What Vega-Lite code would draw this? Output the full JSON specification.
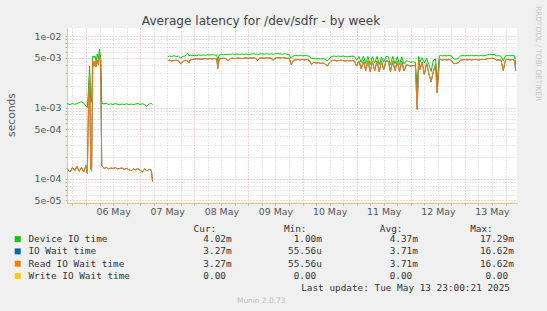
{
  "$schema": "https://vega.github.io/schema/vega-lite/v6.json",
  "width": 450,
  "height": 175,
  "autosize": "none",
  "padding": {"left": 67, "top": 28, "right": 30, "bottom": 108},
  "background": "#F0F0F0",
  "title": {"text": "Average latency for /dev/sdfr - by week", "frame": "group", "anchor": "middle", "dx": -31, "dy": 35.8, "font": "DejaVu Sans", "fontSize": 12.1, "fontWeight": "normal", "color": "#444444", "baseline": "alphabetic", "offset": 4.5},
  "config": {"view": {"fill": "#FFFFFF", "stroke": null}, "font": "DejaVu Sans"},
  "data": {"values": [
    {"t":"2025-05-05T15:36Z","s":1,"dev":1.15e-3,"io":1.4e-4,"rd":1.4e-4,"wr":0},
    {"t":"2025-05-05T16:00Z","s":1,"dev":1.12e-3,"io":1.35e-4,"rd":1.35e-4,"wr":0},
    {"t":"2025-05-05T17:00Z","s":1,"dev":1.10e-3,"io":1.25e-4,"rd":1.25e-4,"wr":0},
    {"t":"2025-05-05T18:00Z","s":1,"dev":1.14e-3,"io":1.45e-4,"rd":1.45e-4,"wr":0},
    {"t":"2025-05-05T19:00Z","s":1,"dev":1.11e-3,"io":1.3e-4,"rd":1.3e-4,"wr":0},
    {"t":"2025-05-05T20:00Z","s":1,"dev":1.13e-3,"io":1.5e-4,"rd":1.5e-4,"wr":0},
    {"t":"2025-05-05T21:00Z","s":1,"dev":1.18e-3,"io":1.28e-4,"rd":1.28e-4,"wr":0},
    {"t":"2025-05-05T22:00Z","s":1,"dev":1.2e-3,"io":1.45e-4,"rd":1.45e-4,"wr":0},
    {"t":"2025-05-05T23:00Z","s":1,"dev":1.15e-3,"io":1.25e-4,"rd":1.25e-4,"wr":0},
    {"t":"2025-05-06T00:00Z","s":1,"dev":1.05e-3,"io":1.55e-4,"rd":1.55e-4,"wr":0},
    {"t":"2025-05-06T00:36Z","s":1,"dev":1.0e-3,"io":1.2e-4,"rd":1.2e-4,"wr":0},
    {"t":"2025-05-06T01:12Z","s":1,"dev":2.0e-3,"io":1.5e-3,"rd":1.5e-3,"wr":0},
    {"t":"2025-05-06T01:36Z","s":1,"dev":3.8e-3,"io":3.0e-3,"rd":3.0e-3,"wr":0},
    {"t":"2025-05-06T02:06Z","s":1,"dev":1.2e-3,"io":1.4e-4,"rd":1.4e-4,"wr":0},
    {"t":"2025-05-06T02:30Z","s":1,"dev":1.2e-3,"io":1.3e-4,"rd":1.3e-4,"wr":0},
    {"t":"2025-05-06T03:00Z","s":1,"dev":5.3e-3,"io":4.5e-3,"rd":4.5e-3,"wr":0},
    {"t":"2025-05-06T03:30Z","s":1,"dev":5.0e-3,"io":3.8e-3,"rd":3.8e-3,"wr":0},
    {"t":"2025-05-06T04:00Z","s":1,"dev":5.3e-3,"io":4.4e-3,"rd":4.4e-3,"wr":0},
    {"t":"2025-05-06T04:30Z","s":1,"dev":4.4e-3,"io":3.7e-3,"rd":3.7e-3,"wr":0},
    {"t":"2025-05-06T05:00Z","s":1,"dev":5.6e-3,"io":4.6e-3,"rd":4.6e-3,"wr":0},
    {"t":"2025-05-06T05:30Z","s":1,"dev":4.8e-3,"io":4.0e-3,"rd":4.0e-3,"wr":0},
    {"t":"2025-05-06T06:00Z","s":1,"dev":6.6e-3,"io":5.6e-3,"rd":5.6e-3,"wr":0},
    {"t":"2025-05-06T06:30Z","s":1,"dev":5.0e-3,"io":4.5e-3,"rd":4.5e-3,"wr":0},
    {"t":"2025-05-06T07:00Z","s":1,"dev":1.15e-3,"io":1.55e-4,"rd":1.55e-4,"wr":0},
    {"t":"2025-05-06T08:00Z","s":1,"dev":1.12e-3,"io":1.4e-4,"rd":1.4e-4,"wr":0},
    {"t":"2025-05-06T09:00Z","s":1,"dev":1.15e-3,"io":1.45e-4,"rd":1.45e-4,"wr":0},
    {"t":"2025-05-06T10:00Z","s":1,"dev":1.1e-3,"io":1.38e-4,"rd":1.38e-4,"wr":0},
    {"t":"2025-05-06T11:00Z","s":1,"dev":1.13e-3,"io":1.42e-4,"rd":1.42e-4,"wr":0},
    {"t":"2025-05-06T12:00Z","s":1,"dev":1.1e-3,"io":1.4e-4,"rd":1.4e-4,"wr":0},
    {"t":"2025-05-06T13:00Z","s":1,"dev":1.14e-3,"io":1.44e-4,"rd":1.44e-4,"wr":0},
    {"t":"2025-05-06T14:00Z","s":1,"dev":1.11e-3,"io":1.38e-4,"rd":1.38e-4,"wr":0},
    {"t":"2025-05-06T15:00Z","s":1,"dev":1.09e-3,"io":1.4e-4,"rd":1.4e-4,"wr":0},
    {"t":"2025-05-06T16:00Z","s":1,"dev":1.12e-3,"io":1.42e-4,"rd":1.42e-4,"wr":0},
    {"t":"2025-05-06T17:00Z","s":1,"dev":1.1e-3,"io":1.37e-4,"rd":1.37e-4,"wr":0},
    {"t":"2025-05-06T18:00Z","s":1,"dev":1.13e-3,"io":1.4e-4,"rd":1.4e-4,"wr":0},
    {"t":"2025-05-06T19:00Z","s":1,"dev":1.1e-3,"io":1.35e-4,"rd":1.35e-4,"wr":0},
    {"t":"2025-05-06T20:00Z","s":1,"dev":1.12e-3,"io":1.3e-4,"rd":1.3e-4,"wr":0},
    {"t":"2025-05-06T21:00Z","s":1,"dev":1.1e-3,"io":1.38e-4,"rd":1.38e-4,"wr":0},
    {"t":"2025-05-06T22:00Z","s":1,"dev":1.12e-3,"io":1.34e-4,"rd":1.34e-4,"wr":0},
    {"t":"2025-05-06T23:00Z","s":1,"dev":1.14e-3,"io":1.4e-4,"rd":1.4e-4,"wr":0},
    {"t":"2025-05-07T00:00Z","s":1,"dev":1.1e-3,"io":1.32e-4,"rd":1.32e-4,"wr":0},
    {"t":"2025-05-07T01:00Z","s":1,"dev":1.13e-3,"io":1.25e-4,"rd":1.25e-4,"wr":0},
    {"t":"2025-05-07T02:00Z","s":1,"dev":1.1e-3,"io":1.38e-4,"rd":1.38e-4,"wr":0},
    {"t":"2025-05-07T03:00Z","s":1,"dev":1.04e-3,"io":1.3e-4,"rd":1.3e-4,"wr":0},
    {"t":"2025-05-07T04:00Z","s":1,"dev":1.12e-3,"io":1.36e-4,"rd":1.36e-4,"wr":0},
    {"t":"2025-05-07T05:00Z","s":1,"dev":1.14e-3,"io":1.32e-4,"rd":1.32e-4,"wr":0},
    {"t":"2025-05-07T05:30Z","s":1,"dev":1.1e-3,"io":9.2e-5,"rd":9.2e-5,"wr":0},
    {"t":"2025-05-07T12:20Z","s":2,"dev":5.15e-3,"io":4.55e-3,"rd":4.55e-3,"wr":0},
    {"t":"2025-05-07T13:00Z","s":2,"dev":5.25e-3,"io":4.6e-3,"rd":4.6e-3,"wr":0},
    {"t":"2025-05-07T14:00Z","s":2,"dev":5.2e-3,"io":4.5e-3,"rd":4.5e-3,"wr":0},
    {"t":"2025-05-07T15:00Z","s":2,"dev":5.3e-3,"io":4.55e-3,"rd":4.55e-3,"wr":0},
    {"t":"2025-05-07T16:00Z","s":2,"dev":5.2e-3,"io":4.6e-3,"rd":4.6e-3,"wr":0},
    {"t":"2025-05-07T17:00Z","s":2,"dev":5.25e-3,"io":4.5e-3,"rd":4.5e-3,"wr":0},
    {"t":"2025-05-07T18:00Z","s":2,"dev":4.9e-3,"io":4.1e-3,"rd":4.1e-3,"wr":0},
    {"t":"2025-05-07T19:00Z","s":2,"dev":5.2e-3,"io":4.4e-3,"rd":4.4e-3,"wr":0},
    {"t":"2025-05-07T20:00Z","s":2,"dev":5.3e-3,"io":4.6e-3,"rd":4.6e-3,"wr":0},
    {"t":"2025-05-07T21:00Z","s":2,"dev":5.8e-3,"io":4.5e-3,"rd":4.5e-3,"wr":0},
    {"t":"2025-05-07T21:40Z","s":2,"dev":5.3e-3,"io":4.2e-3,"rd":4.2e-3,"wr":0},
    {"t":"2025-05-07T22:00Z","s":2,"dev":5.4e-3,"io":4.6e-3,"rd":4.6e-3,"wr":0},
    {"t":"2025-05-07T23:00Z","s":2,"dev":5.3e-3,"io":4.7e-3,"rd":4.7e-3,"wr":0},
    {"t":"2025-05-08T00:00Z","s":2,"dev":5.4e-3,"io":4.75e-3,"rd":4.75e-3,"wr":0},
    {"t":"2025-05-08T01:00Z","s":2,"dev":5.35e-3,"io":4.8e-3,"rd":4.8e-3,"wr":0},
    {"t":"2025-05-08T02:00Z","s":2,"dev":5.45e-3,"io":4.8e-3,"rd":4.8e-3,"wr":0},
    {"t":"2025-05-08T03:00Z","s":2,"dev":5.4e-3,"io":4.75e-3,"rd":4.75e-3,"wr":0},
    {"t":"2025-05-08T04:00Z","s":2,"dev":5.45e-3,"io":4.8e-3,"rd":4.8e-3,"wr":0},
    {"t":"2025-05-08T05:00Z","s":2,"dev":5.4e-3,"io":4.85e-3,"rd":4.85e-3,"wr":0},
    {"t":"2025-05-08T06:00Z","s":2,"dev":5.5e-3,"io":4.8e-3,"rd":4.8e-3,"wr":0},
    {"t":"2025-05-08T07:00Z","s":2,"dev":5.45e-3,"io":4.85e-3,"rd":4.85e-3,"wr":0},
    {"t":"2025-05-08T08:00Z","s":2,"dev":5.5e-3,"io":4.8e-3,"rd":4.8e-3,"wr":0},
    {"t":"2025-05-08T09:00Z","s":2,"dev":5.45e-3,"io":4.85e-3,"rd":4.85e-3,"wr":0},
    {"t":"2025-05-08T10:00Z","s":2,"dev":5.4e-3,"io":4.8e-3,"rd":4.8e-3,"wr":0},
    {"t":"2025-05-08T10:25Z","s":2,"dev":4.5e-3,"io":3.5e-3,"rd":3.5e-3,"wr":0},
    {"t":"2025-05-08T11:00Z","s":2,"dev":5.4e-3,"io":4.75e-3,"rd":4.75e-3,"wr":0},
    {"t":"2025-05-08T12:00Z","s":2,"dev":5.55e-3,"io":4.85e-3,"rd":4.85e-3,"wr":0},
    {"t":"2025-05-08T13:00Z","s":2,"dev":5.5e-3,"io":4.9e-3,"rd":4.9e-3,"wr":0},
    {"t":"2025-05-08T14:00Z","s":2,"dev":5.55e-3,"io":4.85e-3,"rd":4.85e-3,"wr":0},
    {"t":"2025-05-08T15:00Z","s":2,"dev":5.5e-3,"io":4.5e-3,"rd":4.5e-3,"wr":0},
    {"t":"2025-05-08T16:00Z","s":2,"dev":5.55e-3,"io":4.85e-3,"rd":4.85e-3,"wr":0},
    {"t":"2025-05-08T17:00Z","s":2,"dev":5.6e-3,"io":4.9e-3,"rd":4.9e-3,"wr":0},
    {"t":"2025-05-08T18:00Z","s":2,"dev":5.55e-3,"io":4.85e-3,"rd":4.85e-3,"wr":0},
    {"t":"2025-05-08T19:00Z","s":2,"dev":5.6e-3,"io":4.9e-3,"rd":4.9e-3,"wr":0},
    {"t":"2025-05-08T20:00Z","s":2,"dev":5.55e-3,"io":4.9e-3,"rd":4.9e-3,"wr":0},
    {"t":"2025-05-08T21:00Z","s":2,"dev":5.6e-3,"io":4.85e-3,"rd":4.85e-3,"wr":0},
    {"t":"2025-05-08T22:00Z","s":2,"dev":5.55e-3,"io":4.9e-3,"rd":4.9e-3,"wr":0},
    {"t":"2025-05-08T23:00Z","s":2,"dev":5.6e-3,"io":4.95e-3,"rd":4.95e-3,"wr":0},
    {"t":"2025-05-09T00:00Z","s":2,"dev":5.55e-3,"io":4.9e-3,"rd":4.9e-3,"wr":0},
    {"t":"2025-05-09T01:00Z","s":2,"dev":5.6e-3,"io":4.95e-3,"rd":4.95e-3,"wr":0},
    {"t":"2025-05-09T02:00Z","s":2,"dev":5.65e-3,"io":4.9e-3,"rd":4.9e-3,"wr":0},
    {"t":"2025-05-09T03:00Z","s":2,"dev":5.6e-3,"io":4.95e-3,"rd":4.95e-3,"wr":0},
    {"t":"2025-05-09T04:00Z","s":2,"dev":5.55e-3,"io":4.6e-3,"rd":4.6e-3,"wr":0},
    {"t":"2025-05-09T05:00Z","s":2,"dev":5.6e-3,"io":4.9e-3,"rd":4.9e-3,"wr":0},
    {"t":"2025-05-09T06:00Z","s":2,"dev":5.65e-3,"io":4.95e-3,"rd":4.95e-3,"wr":0},
    {"t":"2025-05-09T07:00Z","s":2,"dev":5.6e-3,"io":4.9e-3,"rd":4.9e-3,"wr":0},
    {"t":"2025-05-09T08:00Z","s":2,"dev":5.65e-3,"io":5.0e-3,"rd":5.0e-3,"wr":0},
    {"t":"2025-05-09T09:00Z","s":2,"dev":5.6e-3,"io":4.95e-3,"rd":4.95e-3,"wr":0},
    {"t":"2025-05-09T10:00Z","s":2,"dev":5.65e-3,"io":4.9e-3,"rd":4.9e-3,"wr":0},
    {"t":"2025-05-09T11:00Z","s":2,"dev":5.55e-3,"io":4.6e-3,"rd":4.6e-3,"wr":0},
    {"t":"2025-05-09T12:00Z","s":2,"dev":5.65e-3,"io":4.95e-3,"rd":4.95e-3,"wr":0},
    {"t":"2025-05-09T13:00Z","s":2,"dev":5.7e-3,"io":5.0e-3,"rd":5.0e-3,"wr":0},
    {"t":"2025-05-09T14:00Z","s":2,"dev":5.65e-3,"io":4.95e-3,"rd":4.95e-3,"wr":0},
    {"t":"2025-05-09T15:00Z","s":2,"dev":5.6e-3,"io":5.0e-3,"rd":5.0e-3,"wr":0},
    {"t":"2025-05-09T16:00Z","s":2,"dev":5.65e-3,"io":4.95e-3,"rd":4.95e-3,"wr":0},
    {"t":"2025-05-09T17:00Z","s":2,"dev":5.6e-3,"io":4.9e-3,"rd":4.9e-3,"wr":0},
    {"t":"2025-05-09T18:00Z","s":2,"dev":5.55e-3,"io":4.9e-3,"rd":4.9e-3,"wr":0},
    {"t":"2025-05-09T19:00Z","s":2,"dev":4.9e-3,"io":4.0e-3,"rd":4.0e-3,"wr":0},
    {"t":"2025-05-09T20:00Z","s":2,"dev":5.3e-3,"io":4.6e-3,"rd":4.6e-3,"wr":0},
    {"t":"2025-05-09T21:00Z","s":2,"dev":5.35e-3,"io":4.65e-3,"rd":4.65e-3,"wr":0},
    {"t":"2025-05-09T22:00Z","s":2,"dev":5.3e-3,"io":4.7e-3,"rd":4.7e-3,"wr":0},
    {"t":"2025-05-09T23:00Z","s":2,"dev":5.35e-3,"io":4.65e-3,"rd":4.65e-3,"wr":0},
    {"t":"2025-05-10T00:00Z","s":2,"dev":5.3e-3,"io":4.7e-3,"rd":4.7e-3,"wr":0},
    {"t":"2025-05-10T01:00Z","s":2,"dev":5.35e-3,"io":4.65e-3,"rd":4.65e-3,"wr":0},
    {"t":"2025-05-10T02:00Z","s":2,"dev":5.3e-3,"io":4.7e-3,"rd":4.7e-3,"wr":0},
    {"t":"2025-05-10T03:00Z","s":2,"dev":5.25e-3,"io":4.6e-3,"rd":4.6e-3,"wr":0},
    {"t":"2025-05-10T04:00Z","s":2,"dev":4.9e-3,"io":4.0e-3,"rd":4.0e-3,"wr":0},
    {"t":"2025-05-10T05:00Z","s":2,"dev":4.85e-3,"io":4.3e-3,"rd":4.3e-3,"wr":0},
    {"t":"2025-05-10T06:00Z","s":2,"dev":4.8e-3,"io":4.2e-3,"rd":4.2e-3,"wr":0},
    {"t":"2025-05-10T07:00Z","s":2,"dev":4.85e-3,"io":4.25e-3,"rd":4.25e-3,"wr":0},
    {"t":"2025-05-10T08:00Z","s":2,"dev":4.8e-3,"io":4.15e-3,"rd":4.15e-3,"wr":0},
    {"t":"2025-05-10T09:00Z","s":2,"dev":4.85e-3,"io":4.2e-3,"rd":4.2e-3,"wr":0},
    {"t":"2025-05-10T10:00Z","s":2,"dev":4.75e-3,"io":4.1e-3,"rd":4.1e-3,"wr":0},
    {"t":"2025-05-10T11:00Z","s":2,"dev":4.5e-3,"io":3.8e-3,"rd":3.8e-3,"wr":0},
    {"t":"2025-05-10T12:00Z","s":2,"dev":4.9e-3,"io":4.3e-3,"rd":4.3e-3,"wr":0},
    {"t":"2025-05-10T13:00Z","s":2,"dev":5.2e-3,"io":4.55e-3,"rd":4.55e-3,"wr":0},
    {"t":"2025-05-10T14:00Z","s":2,"dev":5.25e-3,"io":4.6e-3,"rd":4.6e-3,"wr":0},
    {"t":"2025-05-10T15:00Z","s":2,"dev":5.2e-3,"io":4.5e-3,"rd":4.5e-3,"wr":0},
    {"t":"2025-05-10T16:00Z","s":2,"dev":5.25e-3,"io":4.55e-3,"rd":4.55e-3,"wr":0},
    {"t":"2025-05-10T17:00Z","s":2,"dev":5.2e-3,"io":4.6e-3,"rd":4.6e-3,"wr":0},
    {"t":"2025-05-10T18:00Z","s":2,"dev":5.25e-3,"io":4.55e-3,"rd":4.55e-3,"wr":0},
    {"t":"2025-05-10T19:00Z","s":2,"dev":5.2e-3,"io":4.5e-3,"rd":4.5e-3,"wr":0},
    {"t":"2025-05-10T20:00Z","s":2,"dev":5.15e-3,"io":4.55e-3,"rd":4.55e-3,"wr":0},
    {"t":"2025-05-10T21:00Z","s":2,"dev":5.2e-3,"io":4.5e-3,"rd":4.5e-3,"wr":0},
    {"t":"2025-05-10T22:00Z","s":2,"dev":5.25e-3,"io":4.55e-3,"rd":4.55e-3,"wr":0},
    {"t":"2025-05-10T23:00Z","s":2,"dev":5.2e-3,"io":4.5e-3,"rd":4.5e-3,"wr":0},
    {"t":"2025-05-11T00:00Z","s":2,"dev":4.6e-3,"io":3.8e-3,"rd":3.8e-3,"wr":0},
    {"t":"2025-05-11T01:00Z","s":2,"dev":5.2e-3,"io":4.5e-3,"rd":4.5e-3,"wr":0},
    {"t":"2025-05-11T02:00Z","s":2,"dev":4.3e-3,"io":3.5e-3,"rd":3.5e-3,"wr":0},
    {"t":"2025-05-11T03:00Z","s":2,"dev":5.25e-3,"io":4.55e-3,"rd":4.55e-3,"wr":0},
    {"t":"2025-05-11T04:00Z","s":2,"dev":4.1e-3,"io":3.3e-3,"rd":3.3e-3,"wr":0},
    {"t":"2025-05-11T05:00Z","s":2,"dev":5.2e-3,"io":4.5e-3,"rd":4.5e-3,"wr":0},
    {"t":"2025-05-11T06:00Z","s":2,"dev":4.0e-3,"io":3.2e-3,"rd":3.2e-3,"wr":0},
    {"t":"2025-05-11T07:00Z","s":2,"dev":5.15e-3,"io":4.4e-3,"rd":4.4e-3,"wr":0},
    {"t":"2025-05-11T08:00Z","s":2,"dev":4.2e-3,"io":3.3e-3,"rd":3.3e-3,"wr":0},
    {"t":"2025-05-11T09:00Z","s":2,"dev":5.2e-3,"io":4.5e-3,"rd":4.5e-3,"wr":0},
    {"t":"2025-05-11T10:00Z","s":2,"dev":4.0e-3,"io":3.15e-3,"rd":3.15e-3,"wr":0},
    {"t":"2025-05-11T11:00Z","s":2,"dev":5.1e-3,"io":4.4e-3,"rd":4.4e-3,"wr":0},
    {"t":"2025-05-11T12:00Z","s":2,"dev":4.3e-3,"io":3.4e-3,"rd":3.4e-3,"wr":0},
    {"t":"2025-05-11T13:00Z","s":2,"dev":5.2e-3,"io":4.5e-3,"rd":4.5e-3,"wr":0},
    {"t":"2025-05-11T14:00Z","s":2,"dev":5.15e-3,"io":4.45e-3,"rd":4.45e-3,"wr":0},
    {"t":"2025-05-11T15:00Z","s":2,"dev":4.0e-3,"io":3.2e-3,"rd":3.2e-3,"wr":0},
    {"t":"2025-05-11T16:00Z","s":2,"dev":5.2e-3,"io":4.5e-3,"rd":4.5e-3,"wr":0},
    {"t":"2025-05-11T17:00Z","s":2,"dev":4.1e-3,"io":3.3e-3,"rd":3.3e-3,"wr":0},
    {"t":"2025-05-11T18:00Z","s":2,"dev":5.15e-3,"io":4.4e-3,"rd":4.4e-3,"wr":0},
    {"t":"2025-05-11T19:00Z","s":2,"dev":4.0e-3,"io":3.2e-3,"rd":3.2e-3,"wr":0},
    {"t":"2025-05-11T20:00Z","s":2,"dev":5.1e-3,"io":4.4e-3,"rd":4.4e-3,"wr":0},
    {"t":"2025-05-11T21:00Z","s":2,"dev":4.1e-3,"io":3.25e-3,"rd":3.25e-3,"wr":0},
    {"t":"2025-05-11T22:00Z","s":2,"dev":4.5e-3,"io":3.95e-3,"rd":3.95e-3,"wr":0},
    {"t":"2025-05-11T23:00Z","s":2,"dev":4.45e-3,"io":3.9e-3,"rd":3.9e-3,"wr":0},
    {"t":"2025-05-12T00:00Z","s":2,"dev":4.3e-3,"io":3.8e-3,"rd":3.8e-3,"wr":0},
    {"t":"2025-05-12T01:00Z","s":2,"dev":4.35e-3,"io":3.85e-3,"rd":3.85e-3,"wr":0},
    {"t":"2025-05-12T02:00Z","s":2,"dev":4.3e-3,"io":3.9e-3,"rd":3.9e-3,"wr":0},
    {"t":"2025-05-12T02:50Z","s":2,"dev":1.85e-3,"io":9.4e-4,"rd":9.4e-4,"wr":0},
    {"t":"2025-05-12T03:30Z","s":2,"dev":5.2e-3,"io":4.5e-3,"rd":4.5e-3,"wr":0},
    {"t":"2025-05-12T04:00Z","s":2,"dev":4.3e-3,"io":3.4e-3,"rd":3.4e-3,"wr":0},
    {"t":"2025-05-12T05:00Z","s":2,"dev":5.0e-3,"io":4.3e-3,"rd":4.3e-3,"wr":0},
    {"t":"2025-05-12T06:00Z","s":2,"dev":4.2e-3,"io":2.9e-3,"rd":2.9e-3,"wr":0},
    {"t":"2025-05-12T07:00Z","s":2,"dev":4.9e-3,"io":4.2e-3,"rd":4.2e-3,"wr":0},
    {"t":"2025-05-12T08:00Z","s":2,"dev":4.0e-3,"io":3.0e-3,"rd":3.0e-3,"wr":0},
    {"t":"2025-05-12T09:00Z","s":2,"dev":3.2e-3,"io":2.3e-3,"rd":2.3e-3,"wr":0},
    {"t":"2025-05-12T10:00Z","s":2,"dev":4.6e-3,"io":3.2e-3,"rd":3.2e-3,"wr":0},
    {"t":"2025-05-12T11:00Z","s":2,"dev":4.8e-3,"io":4.0e-3,"rd":4.0e-3,"wr":0},
    {"t":"2025-05-12T11:40Z","s":2,"dev":2.2e-3,"io":1.6e-3,"rd":1.6e-3,"wr":0},
    {"t":"2025-05-12T12:40Z","s":2,"dev":5.3e-3,"io":4.6e-3,"rd":4.6e-3,"wr":0},
    {"t":"2025-05-12T13:00Z","s":2,"dev":5.35e-3,"io":4.7e-3,"rd":4.7e-3,"wr":0},
    {"t":"2025-05-12T14:00Z","s":2,"dev":5.3e-3,"io":4.65e-3,"rd":4.65e-3,"wr":0},
    {"t":"2025-05-12T15:00Z","s":2,"dev":5.35e-3,"io":4.7e-3,"rd":4.7e-3,"wr":0},
    {"t":"2025-05-12T16:00Z","s":2,"dev":5.3e-3,"io":4.65e-3,"rd":4.65e-3,"wr":0},
    {"t":"2025-05-12T17:00Z","s":2,"dev":5.35e-3,"io":4.7e-3,"rd":4.7e-3,"wr":0},
    {"t":"2025-05-12T18:00Z","s":2,"dev":5.3e-3,"io":4.6e-3,"rd":4.6e-3,"wr":0},
    {"t":"2025-05-12T19:00Z","s":2,"dev":4.8e-3,"io":4.1e-3,"rd":4.1e-3,"wr":0},
    {"t":"2025-05-12T20:00Z","s":2,"dev":4.75e-3,"io":4.15e-3,"rd":4.15e-3,"wr":0},
    {"t":"2025-05-12T21:00Z","s":2,"dev":4.85e-3,"io":4.2e-3,"rd":4.2e-3,"wr":0},
    {"t":"2025-05-12T22:00Z","s":2,"dev":5.3e-3,"io":4.6e-3,"rd":4.6e-3,"wr":0},
    {"t":"2025-05-12T23:00Z","s":2,"dev":5.35e-3,"io":4.65e-3,"rd":4.65e-3,"wr":0},
    {"t":"2025-05-13T00:00Z","s":2,"dev":5.3e-3,"io":4.7e-3,"rd":4.7e-3,"wr":0},
    {"t":"2025-05-13T01:00Z","s":2,"dev":5.35e-3,"io":4.65e-3,"rd":4.65e-3,"wr":0},
    {"t":"2025-05-13T02:00Z","s":2,"dev":5.3e-3,"io":4.7e-3,"rd":4.7e-3,"wr":0},
    {"t":"2025-05-13T03:00Z","s":2,"dev":5.35e-3,"io":4.65e-3,"rd":4.65e-3,"wr":0},
    {"t":"2025-05-13T04:00Z","s":2,"dev":5.3e-3,"io":4.7e-3,"rd":4.7e-3,"wr":0},
    {"t":"2025-05-13T05:00Z","s":2,"dev":5.35e-3,"io":4.7e-3,"rd":4.7e-3,"wr":0},
    {"t":"2025-05-13T06:00Z","s":2,"dev":5.3e-3,"io":4.65e-3,"rd":4.65e-3,"wr":0},
    {"t":"2025-05-13T07:00Z","s":2,"dev":5.35e-3,"io":4.7e-3,"rd":4.7e-3,"wr":0},
    {"t":"2025-05-13T08:00Z","s":2,"dev":5.3e-3,"io":4.7e-3,"rd":4.7e-3,"wr":0},
    {"t":"2025-05-13T09:00Z","s":2,"dev":5.35e-3,"io":4.7e-3,"rd":4.7e-3,"wr":0},
    {"t":"2025-05-13T10:00Z","s":2,"dev":5.5e-3,"io":4.85e-3,"rd":4.85e-3,"wr":0},
    {"t":"2025-05-13T11:00Z","s":2,"dev":5.55e-3,"io":4.85e-3,"rd":4.85e-3,"wr":0},
    {"t":"2025-05-13T12:00Z","s":2,"dev":5.5e-3,"io":4.9e-3,"rd":4.9e-3,"wr":0},
    {"t":"2025-05-13T13:00Z","s":2,"dev":5.55e-3,"io":4.85e-3,"rd":4.85e-3,"wr":0},
    {"t":"2025-05-13T14:00Z","s":2,"dev":5.3e-3,"io":4.6e-3,"rd":4.6e-3,"wr":0},
    {"t":"2025-05-13T15:00Z","s":2,"dev":5.3e-3,"io":4.65e-3,"rd":4.65e-3,"wr":0},
    {"t":"2025-05-13T16:00Z","s":2,"dev":5.25e-3,"io":4.6e-3,"rd":4.6e-3,"wr":0},
    {"t":"2025-05-13T17:00Z","s":2,"dev":4.5e-3,"io":3.3e-3,"rd":3.3e-3,"wr":0},
    {"t":"2025-05-13T18:00Z","s":2,"dev":5.3e-3,"io":4.65e-3,"rd":4.65e-3,"wr":0},
    {"t":"2025-05-13T19:00Z","s":2,"dev":5.35e-3,"io":4.7e-3,"rd":4.7e-3,"wr":0},
    {"t":"2025-05-13T20:00Z","s":2,"dev":5.3e-3,"io":4.65e-3,"rd":4.65e-3,"wr":0},
    {"t":"2025-05-13T21:00Z","s":2,"dev":5.35e-3,"io":4.7e-3,"rd":4.7e-3,"wr":0},
    {"t":"2025-05-13T22:00Z","s":2,"dev":5.3e-3,"io":4.6e-3,"rd":4.6e-3,"wr":0},
    {"t":"2025-05-13T22:30Z","s":2,"dev":4.02e-3,"io":3.27e-3,"rd":3.27e-3,"wr":0}
  ]},
  "transform": [{"fold": ["dev", "io", "rd", "wr"], "as": ["key", "value"]}],
  "layer": [
    {
      "encoding": {
        "x": {"field": "t", "type": "temporal",
          "scale": {"type": "utc", "domain": [1746459300000, 1747177500000]},
          "axis": {
            "title": "Last update: Tue May 13 23:00:21 2025",
            "titleFont": "DejaVu Sans Mono", "titleFontSize": 9.4, "titleFontWeight": "normal", "titleColor": "#333333",
            "titleX": 442.5, "titleY": 87, "titleAlign": "right", "titleBaseline": "alphabetic",
            "values": [1746468000000, 1746489600000, 1746511200000, 1746532800000, 1746554400000, 1746576000000, 1746597600000, 1746619200000, 1746640800000, 1746662400000, 1746684000000, 1746705600000, 1746727200000, 1746748800000, 1746770400000, 1746792000000, 1746813600000, 1746835200000, 1746856800000, 1746878400000, 1746900000000, 1746921600000, 1746943200000, 1746964800000, 1746986400000, 1747008000000, 1747029600000, 1747051200000, 1747072800000, 1747094400000, 1747116000000, 1747137600000, 1747159200000],
            "grid": true, "gridDash": [1, 2],
            "gridColor": {"condition": {"test": "utchours(datum.value) == 0", "value": "#F0A0A0"}, "value": "#CFCFCF"},
            "labelExpr": "utchours(datum.value) == 12 ? utcFormat(datum.value, '%d %b') : ''",
            "labelFont": "DejaVu Sans", "labelFontSize": 9.4, "labelColor": "#555555",
            "labelOverlap": false, "labelFlush": false, "labelPadding": 2,
            "tickSize": 2, "tickColor": "#B0B0B0", "domainColor": "#C8C8C8"
          }
        },
        "y": {"field": "value", "type": "quantitative",
          "scale": {"type": "log", "domain": [4.6e-5, 1.3e-2], "clamp": true},
          "axis": {
            "title": "seconds", "titleFont": "DejaVu Sans", "titleFontSize": 10.75, "titleFontWeight": "normal", "titleColor": "#555555",
            "titleX": -55.8, "titleY": 86.5, "titleAngle": 270, "titleAlign": "center", "titleBaseline": "middle",
            "values": [0.00005, 0.00006, 0.00007, 0.00008, 0.00009, 0.0001, 0.0002, 0.0003, 0.0004, 0.0005, 0.0006, 0.0007, 0.0008, 0.0009, 0.001, 0.002, 0.003, 0.004, 0.005, 0.006, 0.007, 0.008, 0.009, 0.01],
            "grid": true, "gridDash": [1, 2],
            "gridColor": {"condition": {"test": "indexof([0.00005, 0.0001, 0.0005, 0.001, 0.005, 0.01], datum.value) >= 0", "value": "#F0A0A0"}, "value": "#CFCFCF"},
            "labelExpr": "indexof([0.00005, 0.0001, 0.0005, 0.001, 0.005, 0.01], datum.value) >= 0 ? replace(format(datum.value, '.0e'), 'e-', 'e-0') : ''",
            "labelFont": "DejaVu Sans", "labelFontSize": 9.4, "labelColor": "#555555",
            "labelOverlap": false, "labelFlush": false, "labelPadding": 4,
            "tickSize": 2, "tickColor": "#B0B0B0", "domainColor": "#C4C8E0"
          }
        },
        "color": {"field": "key", "type": "nominal",
          "scale": {"domain": ["dev", "io", "rd", "wr"], "range": ["#00CC00", "#0066B3", "#FF8000", "#FFCC00"]},
          "legend": {
            "orient": "none", "legendX": -54, "legendY": 197, "direction": "vertical",
            "title": "\u200b\u00a0\u00a0\u00a0\u00a0\u00a0\u00a0\u00a0\u00a0\u00a0\u00a0\u00a0\u00a0\u00a0\u00a0\u00a0\u00a0\u00a0\u00a0\u00a0\u00a0\u00a0\u00a0\u00a0\u00a0\u00a0\u00a0\u00a0\u00a0\u00a0\u00a0\u00a0\u00a0Cur:\u00a0\u00a0\u00a0\u00a0\u00a0\u00a0\u00a0\u00a0\u00a0\u00a0\u00a0\u00a0Min:\u00a0\u00a0\u00a0\u00a0\u00a0\u00a0\u00a0\u00a0\u00a0\u00a0\u00a0\u00a0\u00a0Avg:\u00a0\u00a0\u00a0\u00a0\u00a0\u00a0\u00a0\u00a0\u00a0\u00a0\u00a0\u00a0Max:",
            "titleFont": "DejaVu Sans Mono", "titleFontSize": 9.4, "titleFontWeight": "normal", "titleColor": "#333333", "titlePadding": 0, "titleLimit": 1000,
            "labelFont": "DejaVu Sans Mono", "labelFontSize": 9.4, "labelColor": "#333333", "labelOffset": 6, "labelLimit": 1000,
            "symbolType": "square", "symbolSize": 36, "symbolStrokeWidth": 0, "rowPadding": 1.3,
            "labelExpr": "datum.label == 'dev' ? pad('Device IO time', 31, '\u00a0') + pad('4.02m', 16, '\u00a0') + pad('1.00m', 17, '\u00a0') + pad('4.37m', 16, '\u00a0') + '17.29m' : datum.label == 'io' ? pad('IO Wait time', 31, '\u00a0') + pad('3.27m', 15, '\u00a0') + pad('55.56u', 18, '\u00a0') + pad('3.71m', 16, '\u00a0') + '16.62m' : datum.label == 'rd' ? pad('Read IO Wait time', 31, '\u00a0') + pad('3.27m', 15, '\u00a0') + pad('55.56u', 18, '\u00a0') + pad('3.71m', 16, '\u00a0') + '16.62m' : pad('Write IO Wait time', 31, '\u00a0') + pad('0.00', 16, '\u00a0') + pad('0.00', 17, '\u00a0') + pad('0.00', 17, '\u00a0') + '0.00'",
            "encode": {"symbols": {"update": {"fill": {"scale": "color", "field": "value"}, "fillOpacity": {"value": 1}, "opacity": {"value": 1}}}}
          }
        },
        "detail": {"field": "s", "type": "nominal"}
      },
      "layer": [
        {"transform": [{"filter": "datum.key == 'dev'"}], "mark": {"type": "line", "strokeWidth": 1}},
        {"transform": [{"filter": "datum.key == 'io'"}], "mark": {"type": "line", "strokeWidth": 1}},
        {"transform": [{"filter": "datum.key == 'rd'"}], "mark": {"type": "line", "strokeWidth": 1}}
      ]
    },
    {
      "transform": [{"filter": "datum.key == 'wr'"}],
      "mark": {"type": "line", "strokeWidth": 1, "opacity": 0.45},
      "encoding": {
        "x": {"field": "t", "type": "temporal",
          "scale": {"type": "utc", "domain": [1746459300000, 1747177500000]},
          "axis": {"orient": "top", "domain": false, "ticks": false, "labels": false, "grid": false,
            "title": "Munin 2.0.73", "titleX": 193.7, "titleY": 274, "titleAlign": "center", "titleBaseline": "alphabetic",
            "titleFont": "DejaVu Sans", "titleFontSize": 7.4, "titleFontWeight": "normal", "titleColor": "#BDBDBD"}
        },
        "y": {"field": "value", "type": "quantitative",
          "scale": {"type": "log", "domain": [4.6e-5, 1.3e-2], "clamp": true},
          "axis": {"orient": "right", "domain": false, "ticks": false, "labels": false, "grid": false,
            "title": "RRDTOOL / TOBI OETIKER", "titleX": 20, "titleY": 25, "titleAngle": 90, "titleAlign": "center", "titleBaseline": "middle",
            "titleFont": "DejaVu Sans", "titleFontSize": 7.4, "titleFontWeight": "normal", "titleColor": "#C4C4C4"}
        },
        "color": {"field": "key", "type": "nominal"}
      }
    }
  ],
  "resolve": {"axis": {"x": "independent", "y": "independent"}}
}
